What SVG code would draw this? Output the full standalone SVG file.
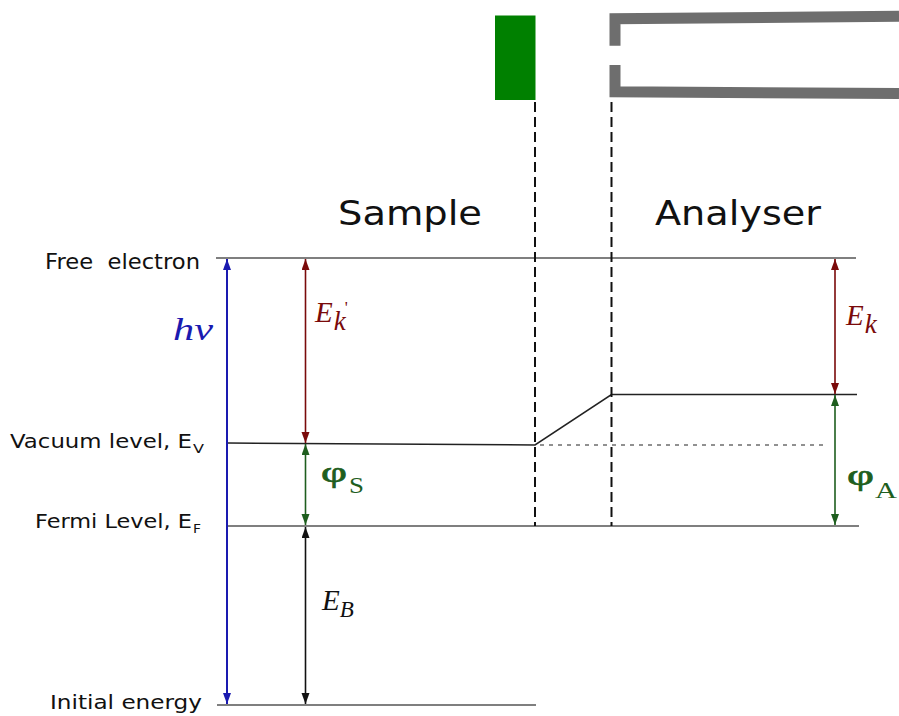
<svg xmlns="http://www.w3.org/2000/svg" width="899" height="716" viewBox="0 0 899 716">
<style>
.lbl{font-family:"DejaVu Sans","Verdana",sans-serif;fill:#111}
.math{font-family:"Liberation Serif","DejaVu Serif",serif;font-style:italic}
.up{font-family:"Liberation Serif","DejaVu Serif",serif;font-style:normal}
.lvl{stroke:#555;stroke-width:1.5;fill:none}
.dash{stroke:#111;stroke-width:2;stroke-dasharray:10,5;fill:none}
.dot{stroke:#222;stroke-width:1;stroke-dasharray:4,5;fill:none}
.blue{stroke:#1a1ab0;stroke-width:2}
.red{stroke:#7a0a0a;stroke-width:1.6}
.green{stroke:#1e5e1e;stroke-width:1.6}
.black{stroke:#111;stroke-width:1.6}
.phi{stroke:#1e5e1e;stroke-width:0.7}
</style>
<defs>
<marker id="ab" markerUnits="userSpaceOnUse" markerWidth="12" markerHeight="9" refX="11" refY="4" orient="auto-start-reverse"><path d="M0,0 L11,4 L0,8 z" fill="#1a1ab0"/></marker>
<marker id="ar" markerUnits="userSpaceOnUse" markerWidth="12" markerHeight="9" refX="11" refY="4" orient="auto-start-reverse"><path d="M0,0 L11,4 L0,8 z" fill="#7a0a0a"/></marker>
<marker id="ag" markerUnits="userSpaceOnUse" markerWidth="12" markerHeight="9" refX="11" refY="4" orient="auto-start-reverse"><path d="M0,0 L11,4 L0,8 z" fill="#1e5e1e"/></marker>
<marker id="ak" markerUnits="userSpaceOnUse" markerWidth="12" markerHeight="9" refX="11" refY="4" orient="auto-start-reverse"><path d="M0,0 L11,4 L0,8 z" fill="#111"/></marker>
</defs>

<g id="sample-block">
<rect x="495" y="15.5" width="40.5" height="84.5" fill="#008000"/>
</g>
<g id="analyser-block" fill="none" stroke="#6e6e6e" stroke-width="11" stroke-linejoin="miter">
<path d="M615,45.7 L615,18.7 L899,16.3"/>
<path d="M615,65 L615,91.7 L899,93.5"/>
</g>

<g id="levels">
<line class="lvl" x1="216" y1="258" x2="856" y2="258"/>
<polyline class="lvl" style="stroke:#222" points="228,443 535,445 611.5,394.5 857,394.5"/>
<line class="lvl" x1="227" y1="526" x2="859" y2="526"/>
<line class="lvl" x1="217" y1="705" x2="536" y2="705"/>
</g>

<g id="connectors">
<line class="dash" x1="535" y1="102" x2="535" y2="526"/>
<line class="dash" x1="611.5" y1="102" x2="611.5" y2="526"/>
<line class="dot" x1="540" y1="445" x2="828" y2="445"/>
<line class="blue" x1="227" y1="259" x2="227" y2="704" marker-start="url(#ab)" marker-end="url(#ab)"/>
<line class="red" x1="305.5" y1="259" x2="305.5" y2="443" marker-start="url(#ar)" marker-end="url(#ar)"/>
<line class="green" x1="305.5" y1="444" x2="305.5" y2="525" marker-start="url(#ag)" marker-end="url(#ag)"/>
<line class="black" x1="305.5" y1="527" x2="305.5" y2="704" marker-start="url(#ak)" marker-end="url(#ak)"/>
<line class="red" x1="835" y1="259" x2="835" y2="394" marker-start="url(#ar)" marker-end="url(#ar)"/>
<line class="green" x1="835" y1="395" x2="835" y2="525" marker-start="url(#ag)" marker-end="url(#ag)"/>
</g>

<g id="titles">
<text class="lbl" x="338" y="225" font-size="33" textLength="144" lengthAdjust="spacingAndGlyphs">Sample</text>
<text class="lbl" x="655" y="225" font-size="33" textLength="166" lengthAdjust="spacingAndGlyphs">Analyser</text>
</g>

<g id="level-labels">
<text class="lbl" x="45" y="269" font-size="20.5" textLength="155" lengthAdjust="spacingAndGlyphs" xml:space="preserve">Free  electron</text>
<text class="lbl" x="10" y="448" font-size="19.5" textLength="182" lengthAdjust="spacingAndGlyphs">Vacuum level, E</text>
<text class="lbl" x="193" y="453" font-size="12" textLength="11" lengthAdjust="spacingAndGlyphs">V</text>
<text class="lbl" x="35" y="528" font-size="19.5" textLength="157" lengthAdjust="spacingAndGlyphs">Fermi Level, E</text>
<text class="lbl" x="193" y="533" font-size="12" textLength="8" lengthAdjust="spacingAndGlyphs">F</text>
<text class="lbl" x="50" y="709" font-size="20" textLength="152" lengthAdjust="spacingAndGlyphs">Initial energy</text>
</g>

<g id="hv-label">
<text class="math" x="173" y="340" font-size="31" fill="#1a1ab0" textLength="40" lengthAdjust="spacingAndGlyphs">hν</text>
</g>
<g id="ek-prime-label" fill="#7a0a0a">
<text class="math" x="315" y="322" font-size="29">E<tspan dx="1" dy="8" font-size="27">k</tspan><tspan class="up" dx="-1" dy="-17" font-size="17">'</tspan></text>
</g>
<g id="phis-label" fill="#1e5e1e">
<text class="up phi" x="321" y="482" font-size="30" textLength="26" lengthAdjust="spacingAndGlyphs">φ</text>
<text class="up" x="349" y="493" font-size="23" textLength="15" lengthAdjust="spacingAndGlyphs">S</text>
</g>
<g id="eb-label" fill="#111">
<text class="math" x="322" y="610" font-size="29">E<tspan dx="0" dy="7" font-size="23">B</tspan></text>
</g>
<g id="ek-label" fill="#7a0a0a">
<text class="math" x="846" y="325" font-size="29">E<tspan dx="1" dy="8" font-size="27">k</tspan></text>
</g>
<g id="phia-label" fill="#1e5e1e">
<text class="up phi" x="847" y="485" font-size="30" textLength="27" lengthAdjust="spacingAndGlyphs">φ</text>
<text class="up" x="875" y="498" font-size="23" textLength="22" lengthAdjust="spacingAndGlyphs">A</text>
</g>
</svg>
